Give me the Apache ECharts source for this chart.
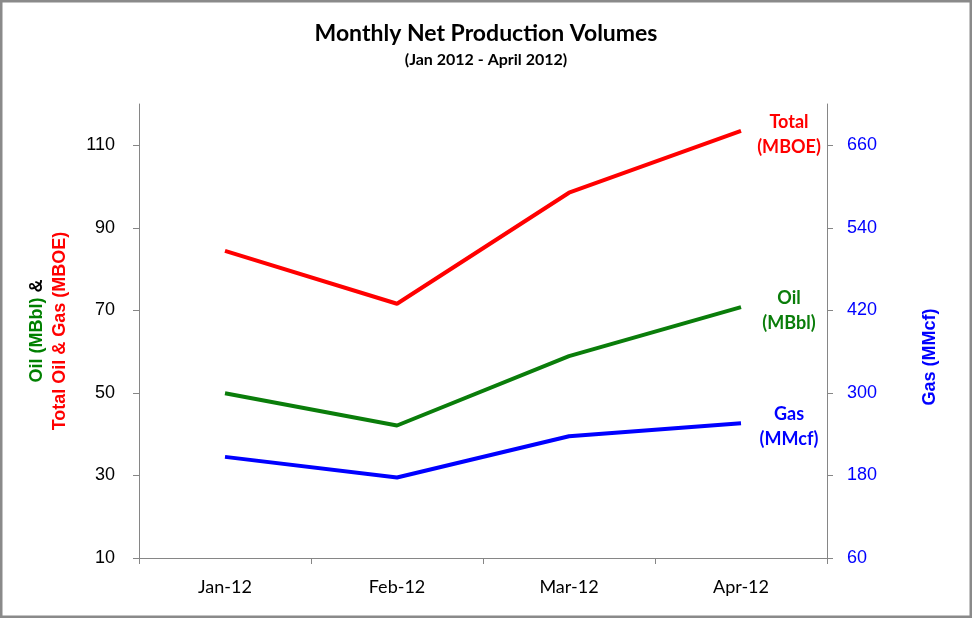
<!DOCTYPE html>
<html>
<head>
<meta charset="utf-8">
<script src="https://cdn.jsdelivr.net/npm/echarts@6/dist/echarts.min.js"></script>
<style>
html,body{margin:0;padding:0;background:#fff;}
#chart{width:972px;height:618px;}
</style>
</head>
<body>
<div id="chart"></div>
<script>
const categories = ['Jan-12', 'Feb-12', 'Mar-12', 'Apr-12'];
const oilMBbl = [49.9, 42.1, 58.9, 70.8];
const gasMMcf = [207, 177, 237, 256];
const totalMBOE = [84.4, 71.6, 98.5, 113.5];
const leftTicks = [10, 30, 50, 70, 90, 110];
const rightTicks = [60, 180, 300, 420, 540, 660];

const chart = echarts.init(document.getElementById('chart'));
const axisGray = '#868686';
const labelFont = 'Liberation Sans';

function endLabel(text, color) {
  return {
    show: true,
    position: 'right',
    distance: 48,
    offset: [0, 4],
    align: 'center',
    verticalAlign: 'middle',
    formatter: text,
    color: color,
    fontFamily: 'Lato',
    fontWeight: 'bold',
    fontSize: 18,
    lineHeight: 25
  };
}

function withEndLabel(values, text, color) {
  return values.map((v, i) => i === values.length - 1 ? { value: v, label: endLabel(text, color) } : v);
}

function lineSeries(name, axisIndex, values, text, color) {
  return {
    name: name,
    type: 'line',
    yAxisIndex: axisIndex,
    data: withEndLabel(values, text, color),
    symbol: 'circle',
    symbolSize: 0,
    showSymbol: true,
    lineStyle: { color: color, width: 4 },
    itemStyle: { color: color },
    z: 3
  };
}

chart.setOption({
  animation: false,
  backgroundColor: '#fff',
  title: {
    text: 'Monthly Net Production Volumes',
    subtext: '(Jan 2012 - April 2012)',
    left: 'center',
    top: 17,
    itemGap: 7,
    textStyle: { fontFamily: 'Lato', fontSize: 23, fontWeight: 'bold', color: '#000' },
    subtextStyle: { fontFamily: 'Lato', fontSize: 16, fontWeight: 'bold', color: '#000' }
  },
  grid: { left: 139, right: 145, top: 104, bottom: 60, containLabel: false },
  xAxis: {
    type: 'category',
    data: categories,
    boundaryGap: true,
    axisLine: { lineStyle: { color: axisGray, width: 1 } },
    axisTick: { show: true, length: 6, inside: false, alignWithLabel: false, lineStyle: { color: axisGray } },
    axisLabel: { margin: 20, fontFamily: 'Lato', fontSize: 18, color: '#000' },
    splitLine: { show: false }
  },
  yAxis: [
    {
      type: 'value',
      position: 'left',
      min: 10,
      max: 120,
      interval: 10,
      axisLine: { show: true, lineStyle: { color: axisGray } },
      axisTick: { show: true, length: 6, customValues: leftTicks, lineStyle: { color: axisGray } },
      axisLabel: { customValues: leftTicks, margin: 24, fontFamily: labelFont, fontSize: 18, color: '#000' },
      splitLine: { show: false },
      name: '{g|Oil (MBbl)} {k|&}\n{r|Total Oil & Gas (MBOE)}',
      nameLocation: 'middle',
      nameRotate: 90,
      nameGap: 67,
      nameTextStyle: {
        fontFamily: 'Liberation Sans',
        fontWeight: 'bold',
        fontSize: 18,
        lineHeight: 23,
        rich: {
          g: { color: '#008000', fontFamily: 'Liberation Sans', fontWeight: 'bold', fontSize: 18, lineHeight: 23 },
          k: { color: '#000', fontFamily: 'Liberation Sans', fontWeight: 'bold', fontSize: 18, lineHeight: 23 },
          r: { color: '#ff0000', fontFamily: 'Liberation Sans', fontWeight: 'bold', fontSize: 18, lineHeight: 23 }
        }
      }
    },
    {
      type: 'value',
      position: 'right',
      min: 60,
      max: 720,
      interval: 60,
      axisLine: { show: true, lineStyle: { color: axisGray } },
      axisTick: { show: true, length: 6, customValues: rightTicks, lineStyle: { color: axisGray } },
      axisLabel: { customValues: rightTicks, margin: 20, fontFamily: labelFont, fontSize: 18, color: '#0000ff' },
      splitLine: { show: false },
      name: 'Gas (MMcf)',
      nameLocation: 'middle',
      nameRotate: 90,
      nameGap: 94,
      nameTextStyle: {
        color: '#0000ff',
        fontFamily: 'Liberation Sans',
        fontWeight: 'bold',
        fontSize: 18,
        padding: [0, 52, 0, 0]
      }
    }
  ],
  series: [
    lineSeries('Total (MBOE)', 0, totalMBOE, 'Total\n(MBOE)', '#ff0000'),
    lineSeries('Oil (MBbl)', 0, oilMBbl, 'Oil\n(MBbl)', '#0a7d0a'),
    lineSeries('Gas (MMcf)', 1, gasMMcf, 'Gas\n(MMcf)', '#0000ff')
  ],
  graphic: [
    {
      type: 'rect',
      silent: true,
      shape: { x: 1, y: 1, width: 970, height: 616 },
      style: { fill: 'none', stroke: '#8a8a8a', lineWidth: 3 },
      z: 100
    }
  ]
});
</script>
</body>
</html>
